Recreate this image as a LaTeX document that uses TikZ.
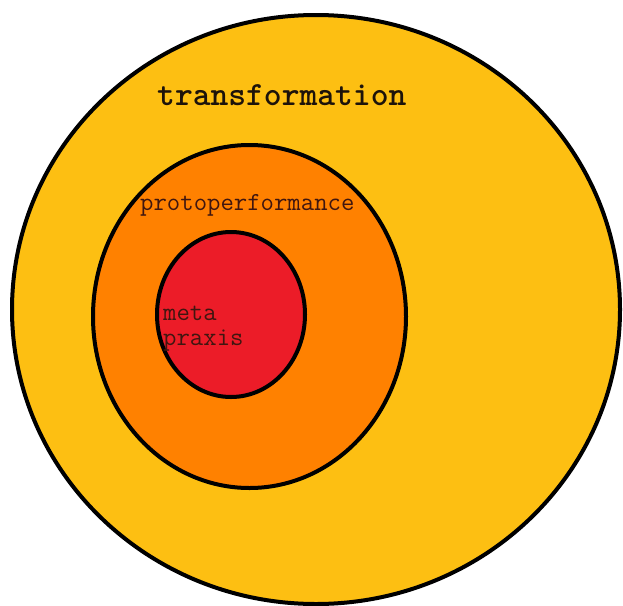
\documentclass[tikz,border=0pt]{standalone}
\usepackage{fontspec}
\definecolor{yel}{HTML}{FDBF12}
\definecolor{org}{HTML}{FF8100}
\definecolor{rd}{HTML}{EC1C28}
\definecolor{txt}{HTML}{401610}
\tikzset{ring/.style={draw=black,line width=4pt},
  lab/.style={font=\ttfamily,text=txt,inner sep=0pt,anchor=base west}}
\begin{document}
\begin{tikzpicture}[x=1pt,y=-1pt]
\useasboundingbox[fill=white] (0,0) rectangle (623,605);
\fill[yel,ring] (316,309.5) ellipse [x radius=304,y radius=294.5];
\fill[org,ring] (249.5,316.5) ellipse [x radius=156.5,y radius=171.5];
\fill[rd,ring] (231,314.5) ellipse [x radius=74,y radius=82.5];
\node[lab,font=\ttfamily\bfseries\fontsize{33.9}{34}\selectfont,text=black!85!brown] (t) at (157,105) {transformation};
\node[lab,font=\ttfamily\fontsize{26}{27}\selectfont] (p) at (140,210) {protoperformance};
\node[lab,font=\ttfamily\fontsize{26}{27}\selectfont] (m1) at (163,320) {meta};
\node[lab,font=\ttfamily\fontsize{26}{27}\selectfont] (m2) at (163,345) {praxis};
\end{tikzpicture}
\end{document}
